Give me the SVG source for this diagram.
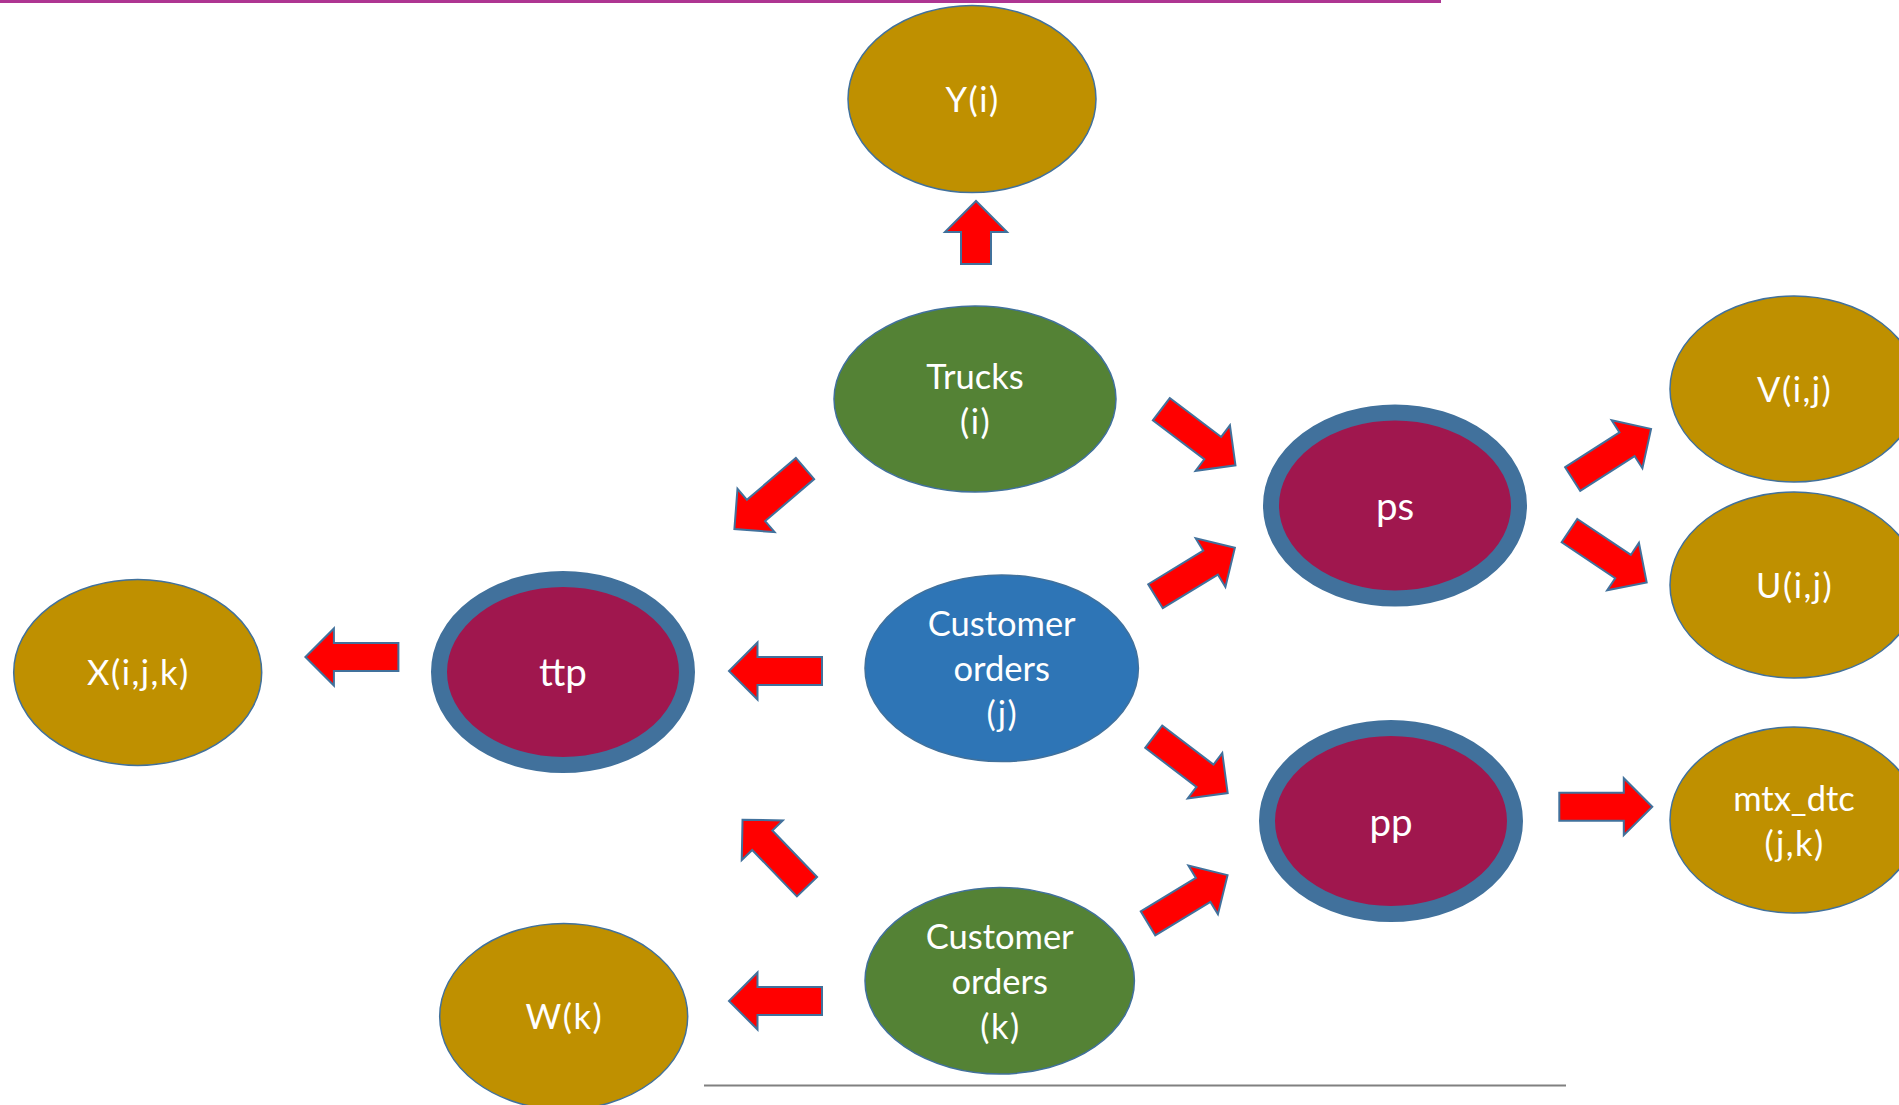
<svg xmlns="http://www.w3.org/2000/svg" xmlns:xlink="http://www.w3.org/1999/xlink" width="1899" height="1105" viewBox="0 0 1899 1105">
<style>
.gold{fill:#BF9000;stroke:#41719C;stroke-width:1.5}
.green{fill:#548235;stroke:#41719C;stroke-width:1.5}
.blue{fill:#2E75B6;stroke:#41719C;stroke-width:1.5}
.ring{fill:#A0174E;stroke:#41719C;stroke-width:16}
.lbl{font-family:Lato,"Open Sans","Noto Sans",sans-serif;font-size:34.5px;fill:#FFFFFF;text-anchor:middle}
.big{font-size:38.5px}
.par{letter-spacing:1.5px}
.arr{fill:#FF0000;stroke:#41719C;stroke-width:2;stroke-linejoin:miter}
</style>
<defs>
<path id="arrow" d="M0,-14 L64.5,-14 L64.5,-28.5 L93,0 L64.5,28.5 L64.5,14 L0,14 Z"/>
<path id="arrowShort" d="M0,-15 L32,-15 L32,-31 L63,0 L32,31 L32,15 L0,15 Z"/>
</defs>
<rect width="1899" height="1105" fill="#FFFFFF"/>
<line x1="0" y1="1.5" x2="1441" y2="1.5" stroke="#AE3592" stroke-width="3"/>
<line x1="704" y1="1085.5" x2="1566" y2="1085.5" stroke="#808080" stroke-width="2"/>

<g id="connectors">
<use href="#arrowShort" class="arr" transform="translate(976,264) rotate(-90)"/>
<use href="#arrow" class="arr" transform="translate(1161.3,409.2) rotate(37.1)"/>
<use href="#arrow" class="arr" transform="translate(805,468.5) rotate(139.4)"/>
<use href="#arrow" class="arr" transform="translate(1155.5,596.2) rotate(-31.4)"/>
<use href="#arrow" class="arr" transform="translate(822,671) rotate(180)"/>
<use href="#arrow" class="arr" transform="translate(1153.7,736.7) rotate(37.3)"/>
<use href="#arrow" class="arr" transform="translate(398.4,657) rotate(180)"/>
<use href="#arrow" class="arr" transform="translate(1572.7,479) rotate(-32.6)"/>
<use href="#arrow" class="arr" transform="translate(1569.5,530.6) rotate(33.9)"/>
<use href="#arrow" class="arr" transform="translate(1559.3,806.7)"/>
<use href="#arrow" class="arr" transform="translate(807,886.7) rotate(-133.9)"/>
<use href="#arrow" class="arr" transform="translate(1148,923.3) rotate(-31.2)"/>
<use href="#arrow" class="arr" transform="translate(822,1001) rotate(180)"/>
</g>

<g id="node-Y">
<ellipse class="gold" cx="972" cy="99" rx="124" ry="93.5"/>
<text class="lbl par" x="972.7" y="111.5">Y(i)</text>
</g>
<g id="node-trucks">
<ellipse class="green" cx="975" cy="399" rx="141" ry="93"/>
<text class="lbl" x="975" y="388.5">Trucks</text>
<text class="lbl par" x="975.7" y="434">(i)</text>
</g>
<g id="node-ps">
<ellipse class="ring" cx="1395" cy="505.5" rx="124" ry="93"/>
<text class="lbl big" x="1395" y="520">ps</text>
</g>
<g id="node-V">
<ellipse class="gold" cx="1794" cy="389" rx="124" ry="93"/>
<text class="lbl par" x="1794.7" y="401.5">V(i,j)</text>
</g>
<g id="node-U">
<ellipse class="gold" cx="1794" cy="585" rx="124" ry="93"/>
<text class="lbl par" x="1794.7" y="597.5">U(i,j)</text>
</g>
<g id="node-custj">
<ellipse class="blue" cx="1001.7" cy="668.3" rx="136.7" ry="93.3"/>
<text class="lbl" x="1001.7" y="636">Customer</text>
<text class="lbl" x="1001.7" y="681">orders</text>
<text class="lbl par" x="1002.4" y="726">(j)</text>
</g>
<g id="node-ttp">
<ellipse class="ring" cx="563" cy="672" rx="124" ry="93"/>
<text class="lbl big" x="563" y="686">ttp</text>
</g>
<g id="node-X">
<ellipse class="gold" cx="137.7" cy="672.4" rx="124" ry="93"/>
<text class="lbl par" x="138.4" y="685">X(i,j,k)</text>
</g>
<g id="node-pp">
<ellipse class="ring" cx="1391" cy="821" rx="124" ry="93"/>
<text class="lbl big" x="1391" y="835.5">pp</text>
</g>
<g id="node-mtx">
<ellipse class="gold" cx="1794" cy="820" rx="124" ry="93"/>
<text class="lbl" x="1794" y="810.5">mtx_dtc</text>
<text class="lbl par" x="1794.7" y="855.5">(j,k)</text>
</g>
<g id="node-custk">
<ellipse class="green" cx="999.7" cy="980.7" rx="134.7" ry="93.3"/>
<text class="lbl" x="999.7" y="948.5">Customer</text>
<text class="lbl" x="999.7" y="993.5">orders</text>
<text class="lbl par" x="1000.4" y="1038.5">(k)</text>
</g>
<g id="node-W">
<ellipse class="gold" cx="563.7" cy="1016.5" rx="124" ry="93"/>
<text class="lbl par" x="564.4" y="1029">W(k)</text>
</g>
</svg>
